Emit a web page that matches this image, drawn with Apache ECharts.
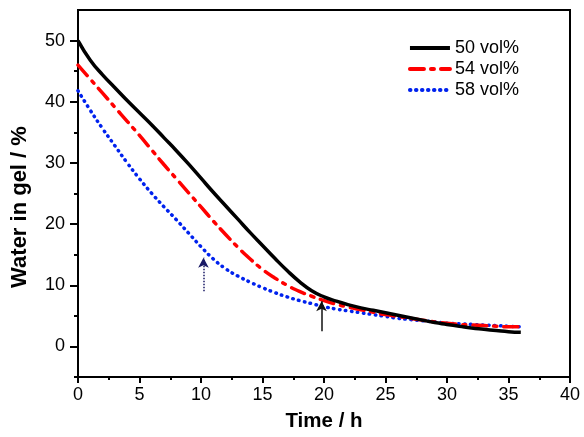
<!DOCTYPE html>
<html>
<head>
<meta charset="utf-8">
<script src="https://cdn.jsdelivr.net/npm/echarts@6/dist/echarts.min.js"></script>
<style>html,body{margin:0;padding:0;background:#fff;}#c{width:584px;height:437px;}</style>
</head>
<body>
<div id="c"></div>
<script>
const time = [0,1,2,3,4,5,6,7,8,9,10,11,12,13,14,15,16,17,18,19,20,21,22,23,24,25,26,27,28,29,30,31,32,33,34,35,36];
const water50 = [50,46.8,44.4,42.3,40.2,38.2,36.2,34.1,32.0,29.8,27.5,25.2,23.0,20.8,18.6,16.5,14.4,12.4,10.6,9.1,8.1,7.4,6.8,6.3,5.9,5.5,5.1,4.7,4.3,3.9,3.6,3.3,3.0,2.8,2.6,2.4,2.3];
const water54 = [46,43.7,41.4,39.1,36.8,34.5,32.1,29.7,27.4,25.1,22.8,20.5,18.3,16.2,14.3,12.6,11.2,10.0,9.0,8.2,7.5,6.9,6.4,6.0,5.6,5.2,4.9,4.6,4.3,4.0,3.8,3.6,3.5,3.4,3.3,3.2,3.2];
const water58 = [41.8,38.6,35.6,32.8,30.0,27.4,25.0,22.8,20.7,18.5,16.3,14.3,12.7,11.5,10.5,9.6,8.8,8.1,7.5,7.0,6.5,6.1,5.8,5.5,5.2,4.9,4.6,4.4,4.2,4.0,3.8,3.7,3.6,3.5,3.4,3.3,3.2];
const seriesNames = ['50 vol%','54 vol%','58 vol%'];
const xTicks = [0,5,10,15,20,25,30,35,40];
const yTicks = [0,10,20,30,40,50];
const yMinorTicks = [-5,5,15,25,35,45];
// annotation arrows [x, yFrom, yTo]
const arrowBlue = [10.2, 9.0, 14.5];
const arrowBlack = [19.8, 2.5, 7.4];

const font = 'Liberation Sans, Arial, sans-serif';
const pairs = arr => time.map((t,i)=>[t,arr[i]]);

const chart = echarts.init(document.getElementById('c'));
chart.setOption({
  animation:false,
  backgroundColor:'#fff',
  grid:{left:78,right:14,top:10,bottom:60,show:true,borderColor:'#000',borderWidth:2},
  legend:{
    right:60, top:34, orient:'vertical', itemWidth:40, itemHeight:14, itemGap:3,
    textStyle:{fontFamily:font,fontSize:18,color:'#000'},
    lineStyle:{width:4},
    itemStyle:{opacity:0,color:'rgba(0,0,0,0)',borderColor:'rgba(0,0,0,0)',borderWidth:0},
    data:seriesNames
  },
  xAxis:{
    type:'value', min:0, max:40, interval:5,
    name:'Time / h', nameLocation:'middle', nameGap:34,
    nameTextStyle:{fontFamily:font,fontSize:20.5,fontWeight:'bold',color:'#000'},
    axisLine:{onZero:false,lineStyle:{color:'#000',width:2}},
    axisTick:{show:true,length:6,lineStyle:{color:'#000',width:2}},
    minorTick:{show:true,splitNumber:2,length:3,lineStyle:{color:'#000',width:2}},
    axisLabel:{fontFamily:font,fontSize:18,color:'#000',margin:9,
      formatter:v=>xTicks.includes(v)?String(v):''},
    splitLine:{show:false}
  },
  yAxis:[{
    type:'value', min:-5, max:55, interval:5,
    name:'Water in gel / %', nameLocation:'middle', nameGap:47,
    nameTextStyle:{fontFamily:font,fontSize:22,fontWeight:'bold',color:'#000',padding:[0,27,0,0]},
    axisLine:{onZero:false,lineStyle:{color:'#000',width:2}},
    axisTick:{show:true,length:8,customValues:yTicks,lineStyle:{color:'#000',width:2}},
    axisLabel:{fontFamily:font,fontSize:18,color:'#000',margin:13,customValues:yTicks,
      formatter:v=>yTicks.includes(v)?String(v):''},
    splitLine:{show:false}
  },{
    type:'value', min:-5, max:55, interval:5, position:'left',
    axisLine:{show:false,onZero:false},
    axisTick:{show:true,length:4,customValues:yMinorTicks,lineStyle:{color:'#000',width:2}},
    axisLabel:{show:false},
    splitLine:{show:false}
  }],
  series:[
    {name:seriesNames[0],type:'line',data:pairs(water50),showSymbol:false,symbol:'none',smooth:0.5,
     color:'#000',lineStyle:{color:'#000',width:3.5},z:3,
     markLine:{silent:true,symbol:['none','arrow'],symbolSize:[8,10],label:{show:false},
       lineStyle:{color:'#111',width:1.5,type:'solid'},
       data:[[{coord:[arrowBlack[0],arrowBlack[1]]},{coord:[arrowBlack[0],arrowBlack[2]]}]]}},
    {name:seriesNames[1],type:'line',data:pairs(water54),showSymbol:false,symbol:'none',smooth:0.5,
     color:'#f00',lineStyle:{color:'#f00',width:3.5,type:[14,7,3,7],cap:'round'},z:2},
    {name:seriesNames[2],type:'line',data:pairs(water58),showSymbol:false,symbol:'none',smooth:0.5,
     color:'#0022ee',lineStyle:{color:'#0022ee',width:3.5,type:[0.5,5.5],cap:'round'},z:1,
     markLine:{silent:true,symbol:['none','arrow'],symbolSize:[8,10],label:{show:false},
       lineStyle:{color:'#1a1a66',width:1.5,type:[1.5,1.5]},
       data:[[{coord:[arrowBlue[0],arrowBlue[1]]},{coord:[arrowBlue[0],arrowBlue[2]]}]]}}
  ]
});
</script>
</body>
</html>
